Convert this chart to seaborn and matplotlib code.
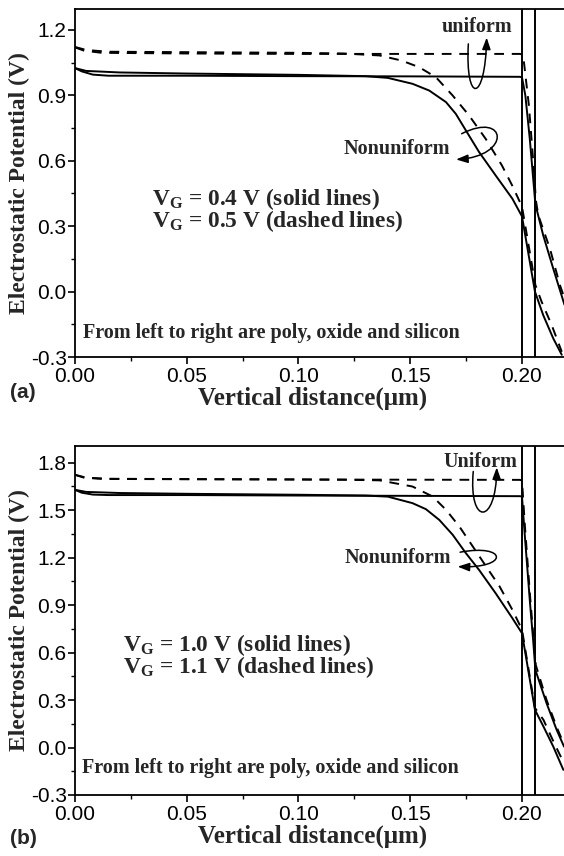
import numpy as np
import pandas as pd
import matplotlib
matplotlib.use("Agg")
import matplotlib.pyplot as plt
import seaborn as sns
from matplotlib.path import Path
from matplotlib.patches import FancyArrowPatch
from matplotlib.ticker import MultipleLocator, FormatStrFormatter

# ---------------- data: panel (a) ----------------
a_uni_solid_x = [0.000, 0.003, 0.008, 0.015, 0.05, 0.10, 0.15, 0.199, 0.200, 0.2015, 0.2035, 0.205, 0.206, 0.2095, 0.214, 0.219]
a_uni_solid_y = [1.025, 1.010, 0.995, 0.990, 0.990, 0.988, 0.987, 0.985, 0.983, 0.90, 0.70, 0.52, 0.40, 0.258, 0.105, -0.06]

a_uni_dash_x = [0.000, 0.004, 0.012, 0.05, 0.10, 0.15, 0.199, 0.200, 0.2009, 0.2031, 0.2046, 0.2054, 0.2062, 0.2073, 0.2125, 0.217, 0.219]
a_uni_dash_y = [1.120, 1.105, 1.095, 1.092, 1.090, 1.090, 1.090, 1.088, 1.05, 0.853, 0.655, 0.548, 0.42, 0.35, 0.197, 0.029, -0.03]

a_non_solid_x = [0.000, 0.005, 0.02, 0.05, 0.10, 0.13, 0.140, 0.151, 0.1585, 0.166, 0.1704, 0.1749, 0.1808, 0.1882, 0.1957, 0.200, 0.2058, 0.2095, 0.214, 0.2178]
a_non_solid_y = [1.025, 1.012, 1.005, 1.000, 0.994, 0.988, 0.980, 0.953, 0.922, 0.869, 0.815, 0.739, 0.640, 0.533, 0.426, 0.345, 0.000, -0.108, -0.215, -0.29]

a_non_dash_x = [0.000, 0.005, 0.015, 0.05, 0.10, 0.12, 0.1362, 0.146, 0.154, 0.1615, 0.169, 0.1763, 0.1838, 0.191, 0.1956, 0.200, 0.206, 0.2088, 0.2133, 0.2178]
a_non_dash_y = [1.122, 1.108, 1.100, 1.098, 1.095, 1.092, 1.083, 1.060, 1.029, 0.983, 0.899, 0.808, 0.700, 0.579, 0.487, 0.39, 0.03, -0.047, -0.154, -0.276]

# ---------------- data: panel (b) ----------------
b_uni_solid_x = [0.000, 0.003, 0.008, 0.015, 0.05, 0.10, 0.15, 0.199, 0.200, 0.2013, 0.2036, 0.2051, 0.2060, 0.211, 0.2155, 0.2188]
b_uni_solid_y = [1.628, 1.610, 1.598, 1.595, 1.595, 1.592, 1.590, 1.588, 1.586, 1.333, 0.912, 0.66, 0.49, 0.28, 0.112, 0.006]

b_uni_dash_x = [0.000, 0.004, 0.012, 0.05, 0.10, 0.15, 0.199, 0.200, 0.2013, 0.2036, 0.2051, 0.2062, 0.211, 0.2155, 0.2188]
b_uni_dash_y = [1.723, 1.705, 1.697, 1.695, 1.693, 1.692, 1.691, 1.688, 1.40, 0.96, 0.70, 0.52, 0.30, 0.13, 0.02]

b_non_solid_x = [0.000, 0.005, 0.02, 0.05, 0.10, 0.13, 0.140, 0.151, 0.157, 0.163, 0.169, 0.1749, 0.1808, 0.1882, 0.1957, 0.200, 0.2058, 0.2096, 0.214, 0.2185]
b_non_solid_y = [1.628, 1.615, 1.608, 1.603, 1.597, 1.592, 1.585, 1.544, 1.506, 1.438, 1.344, 1.228, 1.122, 0.975, 0.817, 0.722, 0.238, 0.133, 0.006, -0.141]

b_non_dash_x = [0.000, 0.005, 0.015, 0.05, 0.10, 0.12, 0.1362, 0.151, 0.160, 0.166, 0.172, 0.178, 0.184, 0.190, 0.1957, 0.200, 0.2058, 0.2096, 0.214, 0.2188]
b_non_dash_y = [1.723, 1.705, 1.698, 1.696, 1.694, 1.692, 1.688, 1.649, 1.586, 1.502, 1.396, 1.270, 1.143, 1.017, 0.870, 0.745, 0.25, 0.175, 0.04, -0.10]

interfaces = [0.200, 0.206]

xlabel = "Vertical distance(\u03bcm)"
ylabel = "Electrostatic Potential (V)"
note = "From left to right are poly, oxide and silicon"
vg_a = ["0.4", "0.5"]
vg_b = ["1.0", "1.1"]

sns.set_style("ticks")
plt.rcParams["font.family"] = ["Liberation Sans", "DejaVu Sans"]
plt.rcParams["axes.unicode_minus"] = False
plt.rcParams["mathtext.fontset"] = "custom"
plt.rcParams["mathtext.rm"] = "Liberation Serif:bold"
plt.rcParams["mathtext.bf"] = "Liberation Serif:bold"
plt.rcParams["mathtext.it"] = "Liberation Serif:bold"

SERIF = ["Liberation Serif", "DejaVu Serif"]

fig = plt.figure(figsize=(5.64, 8.56), dpi=100)
W, H = 564.0, 856.0
ax1 = fig.add_axes([75 / W, 1 - 357 / H, 489 / W, 348 / H])
ax2 = fig.add_axes([75 / W, 1 - 795 / H, 489 / W, 349 / H])

LW = 1.4
DASH = (0, (5, 4))


def draw(ax, xs, ys, dashed):
    df = pd.DataFrame({"x": xs, "y": ys})
    kw = dict(linestyle=DASH) if dashed else dict(linestyle="-")
    sns.lineplot(data=df, x="x", y="y", ax=ax, color="black", lw=LW,
                 estimator=None, sort=False, **kw)


def loop(ax, p0, p1, p2, p3):
    path = Path([p0, p1, p2, p3], [Path.MOVETO, Path.CURVE4, Path.CURVE4, Path.CURVE4])
    arr = FancyArrowPatch(path=path, arrowstyle="-|>,head_length=0.5,head_width=0.18",
                          mutation_scale=14, lw=1.1, color="black",
                          transform=ax.transData, zorder=5)
    ax.add_patch(arr)


def style(ax, ylim, xlab_y):
    ax.set_xlim(0.0, 0.2188)
    ax.set_ylim(*ylim)
    ax.xaxis.set_major_locator(MultipleLocator(0.05))
    ax.xaxis.set_minor_locator(MultipleLocator(0.025))
    ax.yaxis.set_major_locator(MultipleLocator(0.3))
    ax.yaxis.set_minor_locator(MultipleLocator(0.15))
    ax.xaxis.set_major_formatter(FormatStrFormatter("%.2f"))
    ax.yaxis.set_major_formatter(FormatStrFormatter("%.1f"))
    ax.tick_params(axis="both", which="major", direction="out", length=5, width=1.2,
                   labelsize=15, pad=1.0, color="black", labelcolor="black")
    ax.tick_params(axis="both", which="minor", direction="out", length=3, width=1.0, color="black")
    ax.tick_params(axis="x", which="major", pad=2.0)
    for s in ["left", "bottom", "top"]:
        ax.spines[s].set_linewidth(1.3)
        ax.spines[s].set_color("black")
    ax.spines["right"].set_visible(False)
    ax.set_xlabel(xlabel, family=SERIF, fontweight="bold", fontsize=18, va="center")
    ax.set_ylabel(ylabel, family=SERIF, fontweight="bold", fontsize=17, va="center")
    ax.xaxis.set_label_coords(0.485, xlab_y)
    ax.yaxis.set_label_coords(-0.113, 0.5)
    for xv in interfaces:
        ax.axvline(xv, color="black", lw=1.4, zorder=4)


def vg_text(ax, x, y, vals):
    s = (r"V$_{\mathbf{G}}$ = " + vals[0] + " V (solid lines)\n"
         + r"V$_{\mathbf{G}}$ = " + vals[1] + " V (dashed lines)")
    ax.text(x, y, s, family=SERIF, fontweight="bold", fontsize=16.8,
            ha="left", va="center", linespacing=0.82)


# ---------------- panel (a) ----------------
draw(ax1, a_uni_solid_x, a_uni_solid_y, False)
draw(ax1, a_non_solid_x, a_non_solid_y, False)
draw(ax1, a_uni_dash_x, a_uni_dash_y, True)
draw(ax1, a_non_dash_x, a_non_dash_y, True)
style(ax1, (-0.3, 1.296), -0.12)

ax1.text(0.18, 1.212, "uniform", family=SERIF, fontweight="bold", fontsize=14.5,
         ha="center", va="center")
ax1.text(0.1439, 0.655, "Nonuniform", family=SERIF, fontweight="bold", fontsize=14.5,
         ha="center", va="center")
vg_text(ax1, 0.0345, 0.375, vg_a)
ax1.text(0.0036, -0.192, note, family=SERIF, fontweight="bold", fontsize=14.5,
         ha="left", va="center")
loop(ax1, (0.1760, 1.136), (0.1745, 0.86), (0.1835, 0.86), (0.1842, 1.165))
loop(ax1, (0.1730, 0.724), (0.1935, 0.83), (0.1955, 0.62), (0.1705, 0.606))

# ---------------- panel (b) ----------------
draw(ax2, b_uni_solid_x, b_uni_solid_y, False)
draw(ax2, b_non_solid_x, b_non_solid_y, False)
draw(ax2, b_uni_dash_x, b_uni_dash_y, True)
draw(ax2, b_non_dash_x, b_non_dash_y, True)
style(ax2, (-0.3, 1.905), -0.117)

ax2.text(0.1815, 1.807, "Uniform", family=SERIF, fontweight="bold", fontsize=14.5,
         ha="center", va="center")
ax2.text(0.1445, 1.196, "Nonuniform", family=SERIF, fontweight="bold", fontsize=14.5,
         ha="center", va="center")
vg_text(ax2, 0.0215, 0.578, vg_b)
ax2.text(0.0031, -0.13, note, family=SERIF, fontweight="bold", fontsize=14.5,
         ha="left", va="center")
loop(ax2, (0.1782, 1.744), (0.1760, 1.40), (0.1885, 1.40), (0.1887, 1.77))
loop(ax2, (0.1723, 1.234), (0.1935, 1.29), (0.1945, 1.13), (0.1712, 1.143))

fig.text(10 / W, 1 - 393 / H, "(a)", fontweight="bold", fontsize=15, ha="left", va="center")
fig.text(10 / W, 1 - 839 / H, "(b)", fontweight="bold", fontsize=15, ha="left", va="center")

fig.savefig("out.png", dpi=100)
